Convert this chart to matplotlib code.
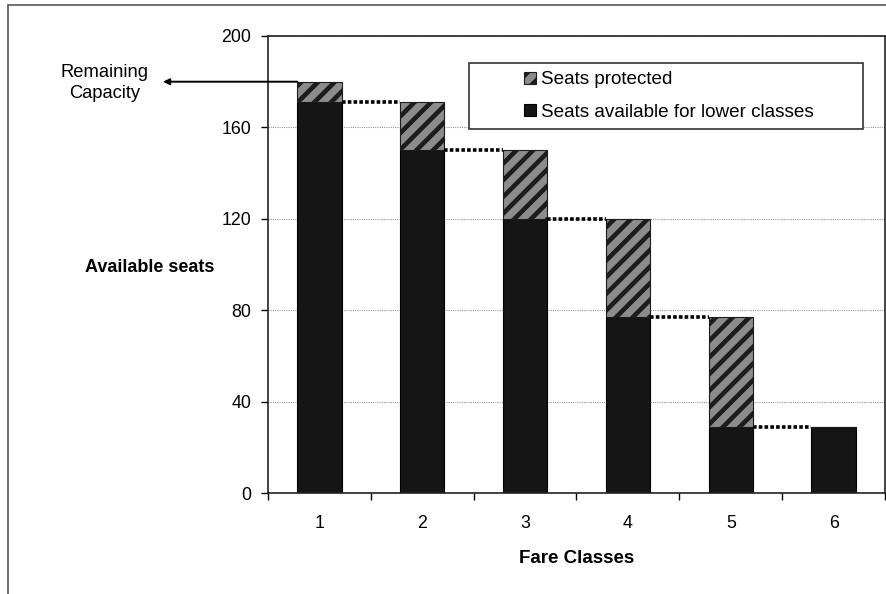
import matplotlib
matplotlib.use('Agg')
import matplotlib.pyplot as plt
from matplotlib.patches import Rectangle

plt.rcParams['font.family'] = ['Liberation Sans', 'DejaVu Sans']
plt.rcParams['hatch.linewidth'] = 3.3

# data
fare_classes = ['1', '2', '3', '4', '5', '6']
total_seats = [180, 171, 150, 120, 77, 29]        # top of each bar
lower_avail = [171, 150, 120, 77, 29, 29]         # seats available for lower classes
protected = [t - l for t, l in zip(total_seats, lower_avail)]

W, H = 886, 594
fig = plt.figure(figsize=(W / 100, H / 100), dpi=100)
ax = fig.add_axes([268 / W, 1 - 493 / H, (885 - 268) / W, (493 - 36) / H])

x = list(range(len(fare_classes)))
bw = 0.43

ax.grid(axis='y', color='#9a9a9a', linestyle=(0, (1, 1)), linewidth=0.8, zorder=0)
b1 = ax.bar(x, lower_avail, width=bw, color='#151515', edgecolor='black', linewidth=0.8,
            zorder=2, label='Seats available for lower classes')
b2 = ax.bar(x, protected, bottom=lower_avail, width=bw, color='#8c8c8c', edgecolor='#1c1c1c',
            hatch='//', linewidth=0.8, zorder=2, label='Seats protected')

# dotted connectors: lower-class seats become next class capacity
for i in range(len(x) - 1):
    ax.plot([x[i] + bw / 2, x[i + 1] - bw / 2], [lower_avail[i], lower_avail[i]],
            color='black', linestyle=(0, (1, 0.6)), linewidth=2.6, zorder=3)

ax.set_xlim(-0.5, len(x) - 0.5)
ax.set_ylim(0, 200)
ax.set_yticks([0, 40, 80, 120, 160, 200])
ax.tick_params(axis='y', labelsize=12.8, length=5, width=1, pad=7, direction='out')

ax.set_xticks([i - 0.5 for i in range(len(x) + 1)])
ax.set_xticklabels([])
ax.set_xticks(x, minor=True)
ax.set_xticklabels(fare_classes, minor=True)
ax.tick_params(axis='x', which='major', length=5, width=1, direction='out')
ax.tick_params(axis='x', which='minor', length=0, labelsize=12.8, pad=16)

for s in ax.spines.values():
    s.set_color('#222222')
    s.set_linewidth(1.2)

ax.set_xlabel('Fare Classes', fontsize=13.5, fontweight='bold', labelpad=13)
fig.text(150 / W, 1 - 267 / H, 'Available seats', fontsize=13, fontweight='bold',
         ha='center', va='center')

# remaining capacity arrow
ax.annotate('', xy=(-1.52, total_seats[0]), xytext=(x[0] - bw / 2, total_seats[0]),
            xycoords='data', annotation_clip=False,
            arrowprops=dict(arrowstyle='-|>', color='black', lw=1.4, mutation_scale=9,
                            shrinkA=0, shrinkB=0))
fig.text(105 / W, 1 - 83 / H, 'Remaining\nCapacity', fontsize=13.2, ha='center', va='center',
         linespacing=1.3)

# legend with its own box
fig.add_artist(Rectangle((469 / W, 1 - 129 / H), (863 - 469) / W, (129 - 63) / H,
                         transform=fig.transFigure, facecolor='white',
                         edgecolor='#333333', linewidth=1.2, zorder=5))
leg = fig.legend(handles=[b2, b1], loc='center left', bbox_to_anchor=(515 / W, 1 - 96 / H),
                 frameon=False, fontsize=13.6, handlelength=0.6, handleheight=0.6,
                 handletextpad=0.3, labelspacing=0.82, borderpad=0)
leg.set_zorder(6)

# outer chart border
fig.add_artist(Rectangle((8 / W, -0.2), 2, 1.2 - 5 / H, transform=fig.transFigure,
                         fill=False, edgecolor='#555555', linewidth=1.2))

fig.savefig('out.png', dpi=100)
